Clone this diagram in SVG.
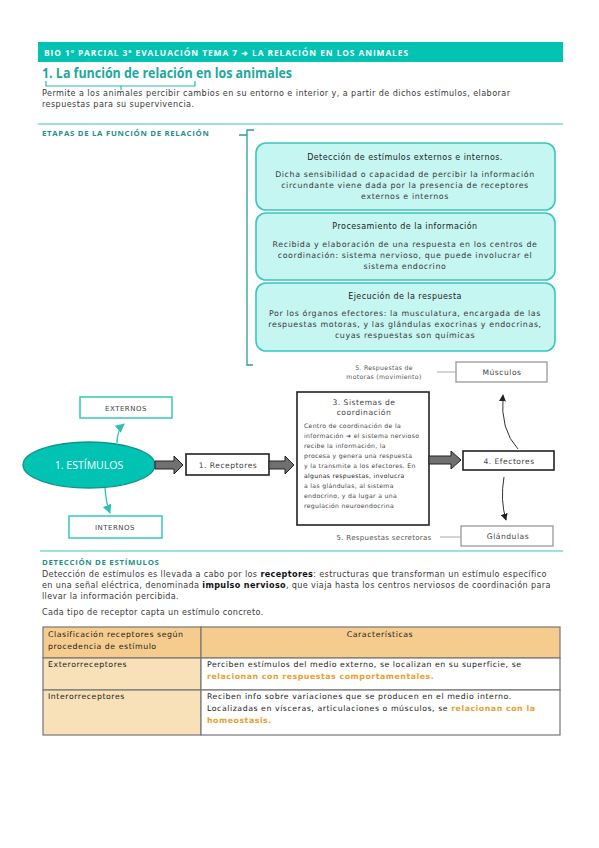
<svg xmlns="http://www.w3.org/2000/svg" width="599" height="848" viewBox="0 0 599 848">
<defs>
<style>
.t{font-family:"DejaVu Sans","Liberation Sans",sans-serif;fill:#333}
.b{font-size:8.1px;fill:#3a3a3a;letter-spacing:0.42px}
.d{letter-spacing:0.36px}
.sec{font-family:"Open Sans","Liberation Sans",sans-serif;font-weight:bold;font-size:7.8px;fill:#1f8f86;letter-spacing:0.7px}
.stage{fill:#c6f6f2;stroke:#36c8bd;stroke-width:1.6}
.st{font-size:8px;fill:#222;text-anchor:middle;letter-spacing:0.45px}
.sb{font-size:7.9px;fill:#3a3a3a;text-anchor:middle;letter-spacing:0.6px}
.fl{font-size:7.6px;fill:#444;text-anchor:middle;letter-spacing:0.5px}
.tealbox{fill:#fff;stroke:#36c8bd;stroke-width:1.5}
.blk{fill:#fff;stroke:#222;stroke-width:1.6}
.gry{fill:#fff;stroke:#999;stroke-width:1.3}
.barrow{fill:#707070;stroke:#222;stroke-width:1}
.cell{stroke:#777;stroke-width:1.2}
.tc{font-size:7.8px;fill:#222;letter-spacing:0.55px}
.or{fill:#e6a030;font-weight:bold}
</style>
<marker id="ah" viewBox="0 0 10 10" refX="9" refY="5" markerWidth="7" markerHeight="7" orient="auto-start-reverse"><path d="M0,0 L10,5 L0,10 z" fill="#222"/></marker>
<marker id="aht" viewBox="0 0 10 10" refX="9" refY="5" markerWidth="7" markerHeight="7" orient="auto-start-reverse"><path d="M0,0 L10,5 L0,10 z" fill="#2fbfb3"/></marker>
</defs>
<rect width="599" height="848" fill="#fff"/>

<g id="header">
<rect x="38" y="42" width="525" height="20" fill="#00c3b3"/>
<text x="44" y="55.5" textLength="364" lengthAdjust="spacing" style="font-family:'Open Sans','Liberation Sans',sans-serif;font-weight:bold;font-size:8.4px;fill:#fff">BIO 1º PARCIAL 3ª EVALUACIÓN TEMA 7 ➜ LA RELACIÓN EN LOS ANIMALES</text>
<text x="42" y="78" textLength="250" lengthAdjust="spacingAndGlyphs" style="font-family:'Open Sans','Liberation Sans',sans-serif;font-weight:bold;font-size:13.5px;fill:#1ba99c">1. La función de relación en los animales</text>
<path d="M46,81 V86 H195 V81 M121,86 V90" fill="none" stroke="#2cb9ad" stroke-width="1.2"/>
<text class="t b" x="42" y="96">Permite a los animales percibir cambios en su entorno e interior y, a partir de dichos estímulos, elaborar</text>
<text class="t b" x="42" y="107">respuestas para su supervivencia.</text>
<line x1="38" y1="124" x2="563" y2="124" stroke="#36c8bd" stroke-width="1.2"/>
<text class="sec" x="42" y="136">ETAPAS DE LA FUNCIÓN DE RELACIÓN</text>
<path d="M239,135 H247 M254,130 H247 V365 H253" fill="none" stroke="#2a9d95" stroke-width="1.3"/>
</g>

<g id="stage1">
<rect class="stage" x="256" y="143" width="299" height="67" rx="10"/>
<text class="t st" x="405" y="160">Detección de estímulos externos e internos.</text>
<text class="t sb" x="405" y="177">Dicha sensibilidad o capacidad de percibir la información</text>
<text class="t sb" x="405" y="188">circundante viene dada por la presencia de receptores</text>
<text class="t sb" x="405" y="199">externos e internos</text>
</g>
<g id="stage2">
<rect class="stage" x="256" y="213" width="299" height="67" rx="10"/>
<text class="t st" x="405" y="229">Procesamiento de la información</text>
<text class="t sb" x="405" y="247">Recibida y elaboración de una respuesta en los centros de</text>
<text class="t sb" x="405" y="258">coordinación: sistema nervioso, que puede involucrar el</text>
<text class="t sb" x="405" y="269">sistema endocrino</text>
</g>
<g id="stage3">
<rect class="stage" x="256" y="283" width="299" height="68" rx="10"/>
<text class="t st" x="405" y="299">Ejecución de la respuesta</text>
<text class="t sb" x="405" y="316">Por los órganos efectores: la musculatura, encargada de las</text>
<text class="t sb" x="405" y="327">respuestas motoras, y las glándulas exocrinas y endocrinas,</text>
<text class="t sb" x="405" y="338">cuyas respuestas son químicas</text>
</g>

<g id="estimulos">
<ellipse cx="89" cy="465" rx="66" ry="23" fill="#00c3b3" stroke="#119488" stroke-width="1.3"/>
<text x="89" y="469" text-anchor="middle" style="font-family:'Open Sans','Liberation Sans',sans-serif;font-size:10.5px;fill:#fff">1. ESTÍMULOS</text>
</g>
<g id="externos">
<rect class="tealbox" x="80" y="397" width="92" height="21"/>
<text class="t fl" x="126" y="410.5" style="font-size:7px">EXTERNOS</text>
</g>
<g id="internos">
<rect class="tealbox" x="69" y="516" width="93" height="22"/>
<text class="t fl" x="115" y="530" style="font-size:7px">INTERNOS</text>
</g>
<g id="receptores">
<rect class="blk" x="186" y="454" width="83" height="21"/>
<text class="t fl" x="228" y="467.5">1. Receptores</text>
</g>
<g id="sistemas">
<rect class="blk" x="297" y="392" width="132" height="133"/>
<text class="t fl" x="364" y="405" style="font-size:7.6px">3. Sistemas de</text>
<text class="t fl" x="364" y="415" style="font-size:7.6px">coordinación</text>
<g class="t" style="font-size:6.1px;fill:#444;letter-spacing:0.33px">
<text x="304" y="428">Centro de coordinación de la</text>
<text x="304" y="438">información ➜ el sistema nervioso</text>
<text x="304" y="448">recibe la información, la</text>
<text x="304" y="458">procesa y genera una respuesta</text>
<text x="304" y="468">y la transmite a los efectores. En</text>
<text x="304" y="478" style="fill:#222">algunas respuestas, involucra</text>
<text x="304" y="488">a las glándulas, al sistema</text>
<text x="304" y="498">endocrino, y da lugar a una</text>
<text x="304" y="508">regulación neuroendocrina</text>
</g>
</g>
<g id="efectores">
<rect class="blk" x="463" y="451" width="91" height="19"/>
<text class="t fl" x="509" y="463.5">4. Efectores</text>
</g>
<g id="musculos">
<rect class="gry" x="456" y="362" width="91" height="20"/>
<text class="t fl" x="502" y="375">Músculos</text>
</g>
<g id="glandulas">
<rect class="gry" x="461" y="526" width="92" height="20"/>
<text class="t fl" x="508" y="539">Glándulas</text>
</g>
<g id="labels">
<text class="t" x="384" y="370" text-anchor="middle" style="font-size:6.2px;fill:#555;letter-spacing:0.3px">5. Respuestas de</text>
<text class="t" x="384" y="379" text-anchor="middle" style="font-size:6.2px;fill:#555;letter-spacing:0.3px">motoras (movimiento)</text>
<text class="t" x="384" y="540" text-anchor="middle" style="font-size:7px;fill:#555;letter-spacing:0.3px">5. Respuestas secretoras</text>
</g>

<g id="connectors">
<path class="barrow" d="M155,461 H174 V456 L183,465 L174,474 V469 H155 z"/>
<path class="barrow" d="M269,461 H285 V456 L294,465 L285,474 V469 H269 z"/>
<path class="barrow" d="M429,456 H451 V451 L461,460 L451,469 V464 H429 z"/>
<path d="M117,443 Q117,430 124,424" fill="none" stroke="#2fbfb3" stroke-width="1.3" marker-end="url(#aht)"/>
<path d="M105,488 Q106,503 110,513" fill="none" stroke="#2fbfb3" stroke-width="1.3" marker-end="url(#aht)"/>
<path d="M518,449 Q500,430 503,395" fill="none" stroke="#333" stroke-width="1" marker-end="url(#ah)"/>
<path d="M504,477 Q500,500 506,520" fill="none" stroke="#333" stroke-width="1" marker-end="url(#ah)"/>
<line x1="437" y1="372" x2="456" y2="372" stroke="#aaa" stroke-width="1"/>
<line x1="440" y1="537" x2="461" y2="537" stroke="#aaa" stroke-width="1"/>
</g>

<g id="deteccion">
<line x1="40" y1="551" x2="563" y2="551" stroke="#36c8bd" stroke-width="1.2"/>
<text class="sec" x="42" y="565">DETECCIÓN DE ESTÍMULOS</text>
<text class="t b d" x="42" y="577">Detección de estímulos es llevada a cabo por los <tspan font-weight="bold" fill="#111">receptores</tspan>: estructuras que transforman un estímulo específico</text>
<text class="t b d" x="42" y="588">en una señal eléctrica, denominada <tspan font-weight="bold" fill="#111">impulso nervioso</tspan>, que viaja hasta los centros nerviosos de coordinación para</text>
<text class="t b d" x="42" y="599">llevar la información percibida.</text>
<text class="t b d" x="42" y="615">Cada tipo de receptor capta un estímulo concreto.</text>
</g>

<g id="tabla">
<rect class="cell" x="43" y="627" width="158" height="31" fill="#f5cc8e"/>
<rect class="cell" x="201" y="627" width="359" height="31" fill="#f5cc8e"/>
<rect class="cell" x="43" y="658" width="158" height="32" fill="#f8e1b9"/>
<rect class="cell" x="201" y="658" width="359" height="32" fill="#fff"/>
<rect class="cell" x="43" y="690" width="158" height="45" fill="#f8e1b9"/>
<rect class="cell" x="201" y="690" width="359" height="45" fill="#fff"/>
<text class="t tc" x="48" y="637">Clasificación receptores según</text>
<text class="t tc" x="48" y="649">procedencia de estímulo</text>
<text class="t tc" x="380" y="637" text-anchor="middle">Características</text>
<text class="t tc" x="48" y="667">Exterorreceptores</text>
<text class="t tc" x="207" y="667">Perciben estímulos del medio externo, se localizan en su superficie, se</text>
<text class="t tc or" x="207" y="679">relacionan con respuestas comportamentales.</text>
<text class="t tc" x="48" y="699">Interorreceptores</text>
<text class="t tc" x="207" y="699">Reciben info sobre variaciones que se producen en el medio interno.</text>
<text class="t tc" x="207" y="711">Localizadas en vísceras, articulaciones o músculos, se <tspan class="or">relacionan con la</tspan></text>
<text class="t tc or" x="207" y="723">homeostasis.</text>
</g>
</svg>
